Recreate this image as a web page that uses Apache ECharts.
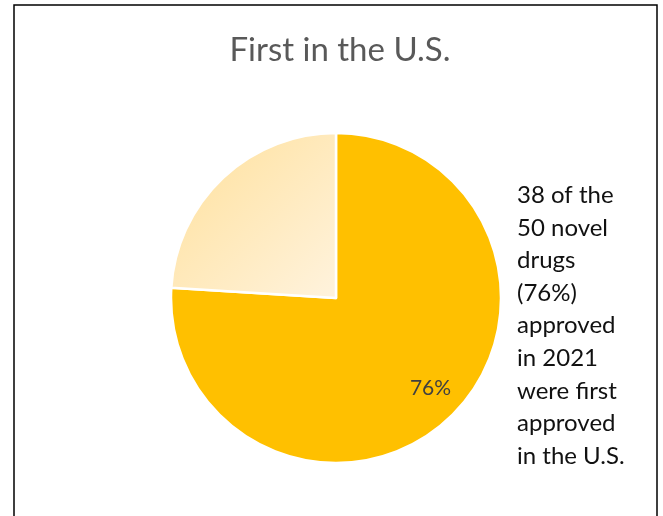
<!DOCTYPE html>
<html><head><meta charset="utf-8">
<script src="https://cdn.jsdelivr.net/npm/echarts@6/dist/echarts.min.js"></script>
<style>html,body{margin:0;padding:0;background:#fff}#c{width:663px;height:516px}</style>
</head><body><div id="c"></div>
<script>
const categories = ['First in the U.S.', 'Not first in the U.S.'];
const values = [76, 24];
const titleText = 'First in the U.S.';
const noteLines = ['38 of the','50 novel','drugs','(76%)','approved','in 2021','were first','approved','in the U.S.'];

const chart = echarts.init(document.getElementById('c'), null, {renderer: 'canvas'});
chart.setOption({
  animation: false,
  backgroundColor: '#fff',
  title: {
    text: titleText, left: 335, top: 29, textAlign: 'center',
    textStyle: {fontFamily: 'Lato', fontWeight: 'normal', fontSize: 33, color: '#595959'}
  },
  graphic: [
    {type: 'polyline', shape: {points: [[14, 520], [14, 5], [657, 5], [657, 520]]},
     style: {stroke: '#000', lineWidth: 1.5, fill: null}},
    {type: 'text', left: 517, top: 179,
     style: {text: noteLines.join('\n'), fontFamily: 'Lato', fontSize: 24, lineHeight: 32.6, fill: '#111'}}
  ],
  series: [{
    type: 'pie',
    center: [336, 298],
    radius: [0, 165],
    startAngle: 90,
    clockwise: true,
    itemStyle: {borderColor: '#fff', borderWidth: 2.5},
    labelLine: {show: false},
    data: [
      {name: categories[0], value: values[0], itemStyle: {color: '#FFC000'},
       label: {show: true, position: 'inside', formatter: '{d}%', fontFamily: 'Lato', fontSize: 21, color: '#404040', offset: [36, 28]}},
      {name: categories[1], value: values[1], label: {show: false},
       itemStyle: {color: new echarts.graphic.LinearGradient(0, 0, 1, 1, [{offset: 0, color: '#FFE09A'}, {offset: 1, color: '#FFF3DE'}])}}
    ]
  }]
});
</script></body></html>
